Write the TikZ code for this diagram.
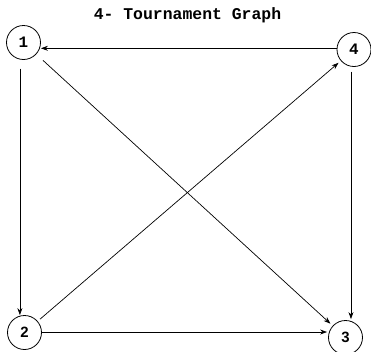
\documentclass[tikz,border=0pt]{standalone}
\usepackage{fontspec}
\setmainfont{Liberation Serif}
\newfontfamily\monob{Liberation Mono}[BoldFont={Liberation Mono Bold}]
\newfontfamily\sansb{Liberation Sans}[BoldFont={Liberation Sans Bold}]
\usetikzlibrary{arrows.meta}
\begin{document}
\begin{tikzpicture}[x=1bp,y=-1bp,
  vtx/.style={draw,circle,line width=0.8bp,minimum size=34bp,inner sep=0pt},
  monolab/.style={font=\monob\bfseries\fontsize{16}{16}\selectfont},
  sanslab/.style={font=\sansb\bfseries\fontsize{15}{15}\selectfont},
  arr/.style={line width=0.7bp,-{Stealth[length=7bp,width=5bp]}}]
\useasboundingbox (0,0) rectangle (371,352);
\node[anchor=base,font=\monob\bfseries\fontsize{16.5}{16.5}\selectfont] (title) at (187.5,19.5) {4- Tournament Graph};
\node[vtx,monolab] (n1) at (23.5,42.5) {1};
\node[vtx,monolab] (n4) at (354,49.5) {4};
\node[vtx,sanslab] (n2) at (24.5,332.5) {2};
\node[vtx,sanslab] (n3) at (345.5,337.5) {3};
% 4 -> 1
\draw[arr] (n4.west |- 0,48.3) coordinate (a41) -- (a41 -| n1.east);
% 1 -> 2
\draw[arr,shorten <=9bp] (n1.258) -- (n1.258 |- n2.north);
% 4 -> 3
\draw[arr,shorten <=5bp,shorten >=1bp] (n4.260) -- (n4.260 |- n3.north);
% 2 -> 3
\draw[arr,shorten >=1bp] (n2.east |- 0,332) coordinate (a23) -- (a23 -| n3.west);
% 1 -> 3
\draw[arr,shorten <=9bp,shorten >=3bp] (n1) -- (n3);
% 2 -> 4
\draw[arr,shorten <=3bp,shorten >=3bp] (n2) -- (n4);
\end{tikzpicture}
\end{document}
